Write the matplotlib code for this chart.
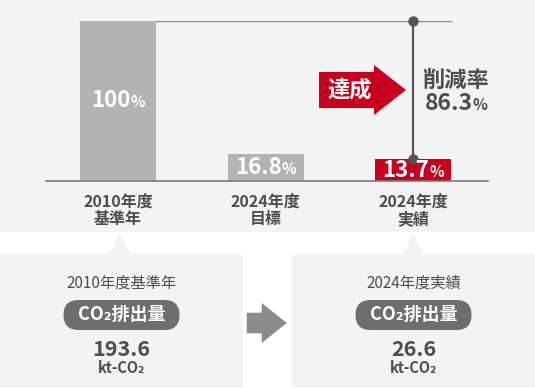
import matplotlib
matplotlib.use('agg')
import matplotlib.pyplot as plt
from matplotlib.patches import Rectangle, Polygon, FancyBboxPatch
from matplotlib.offsetbox import TextArea, HPacker, AnnotationBbox

plt.rcParams['font.family'] = ['Noto Sans CJK JP', 'DejaVu Sans']

# data
categories = ['2010年度\n基準年', '2024年度\n目標', '2024年度\n実績']
shares = [100, 16.8, 13.7]
share_labels = ['100', '16.8', '13.7']
reduction_rate = '86.3'
box_titles = ['2010年度基準年', '2024年度実績']
emissions = ['193.6', '26.6']
unit = 'kt-CO₂'

PANEL = '#f3f3f3'
GRAY_BAR = '#b3b3b3'
RED = '#c8001e'
TEXT = '#4d4d4d'
bar_colors = [GRAY_BAR, GRAY_BAR, RED]

W, H = 535, 388


def pct_label(ax, x, y, num, color, size, xycoords='data'):
    parts = HPacker(children=[
        TextArea(num, textprops=dict(color=color, fontsize=size, fontweight='bold')),
        TextArea('%', textprops=dict(color=color, fontsize=size * 0.68, fontweight='bold')),
    ], align='baseline', pad=0, sep=0)
    ab = AnnotationBbox(parts, (x, y), xycoords=xycoords, frameon=False,
                        box_alignment=(0.5, 0.5), pad=0, zorder=5)
    ax.add_artist(ab)


fig = plt.figure(figsize=(W / 100, H / 100), dpi=100)
fig.patch.set_facecolor('white')

# background layer in pixel units
bg = fig.add_axes([0, 0, 1, 1])
bg.set_xlim(0, W)
bg.set_ylim(H, 0)
bg.axis('off')
bg.add_patch(Rectangle((0, 0), W, 232, color=PANEL, lw=0))
bg.add_patch(Rectangle((0, 254), 243, 133, color=PANEL, lw=0))
bg.add_patch(Rectangle((292, 254), 243, 133, color=PANEL, lw=0))
bg.add_patch(Polygon([(108.5, 254), (119.5, 234), (130.5, 254)], color=PANEL, lw=0))
bg.add_patch(Polygon([(402, 254), (413, 234), (424, 254)], color=PANEL, lw=0))

# gray arrow between boxes
bg.add_patch(Polygon([(246.7, 312.7), (261.7, 312.7), (261.7, 303), (286.7, 323),
                      (261.7, 343), (261.7, 333.3), (246.7, 333.3)], color='#8c8c8c', lw=0))

# red arrow
bg.add_patch(Polygon([(319, 72), (374, 72), (374, 65), (406, 90), (374, 115),
                      (374, 108), (319, 108)], color=RED, lw=0))
bg.text(350, 90, '達成', color='white', fontsize=16, fontweight='bold', ha='center', va='center')

bg.text(456, 80, '削減率', color=TEXT, fontsize=16, fontweight='bold', ha='center', va='center')
pct_label(bg, 456, 103, reduction_rate, TEXT, 16.5)

# bottom boxes
for cx, title, val in zip([121.5, 413.5], box_titles, emissions):
    bg.text(cx, 283, title, color=TEXT, fontsize=11, ha='center', va='center')
    bg.add_patch(FancyBboxPatch((cx - 58, 300), 116, 30,
                                boxstyle='round,pad=0,rounding_size=15', color='#6e6e6e', lw=0))
    bg.text(cx, 315, 'CO₂排出量', color='white', fontsize=13, fontweight='bold', ha='center', va='center')
    bg.text(cx, 350, val, color=TEXT, fontsize=15.5, fontweight='bold', ha='center', va='center')
    bg.text(cx, 368, unit, color=TEXT, fontsize=10.5, fontweight='bold', ha='center', va='center')

# bar chart
ax = fig.add_axes([46 / W, 1 - 181 / H, 442 / W, 160.5 / H], facecolor='none')
x = list(range(len(categories)))
w = 0.515
ax.bar(x, shares, width=w, color=bar_colors, zorder=2)
ax.plot([x[0] - w / 2, x[-1] + w / 2], [shares[0], shares[0]], color='#8c8c8c', lw=1, zorder=1)
ax.plot([x[-1], x[-1]], [shares[0], shares[-1]], color='#555555', lw=1.6,
        marker='o', ms=6.5, clip_on=False, zorder=4)
ax.set_xlim(-0.488, 2.508)
ax.set_ylim(0, 100)
for s in ['top', 'left', 'right']:
    ax.spines[s].set_visible(False)
ax.spines['bottom'].set_color('#7a7a7a')
ax.spines['bottom'].set_linewidth(1.2)
ax.set_yticks([])
ax.set_xticks(x, categories)
ax.tick_params(axis='x', length=0, pad=9, labelsize=11.5, labelcolor=TEXT)
for lab in ax.get_xticklabels():
    lab.set_fontweight('bold')
    lab.set_linespacing(1.1)

for xi, v, lbl in zip(x, shares, share_labels):
    pct_label(ax, xi, v / 2, lbl, 'white', 16)

fig.savefig('out.png', dpi=100, facecolor=fig.get_facecolor())
